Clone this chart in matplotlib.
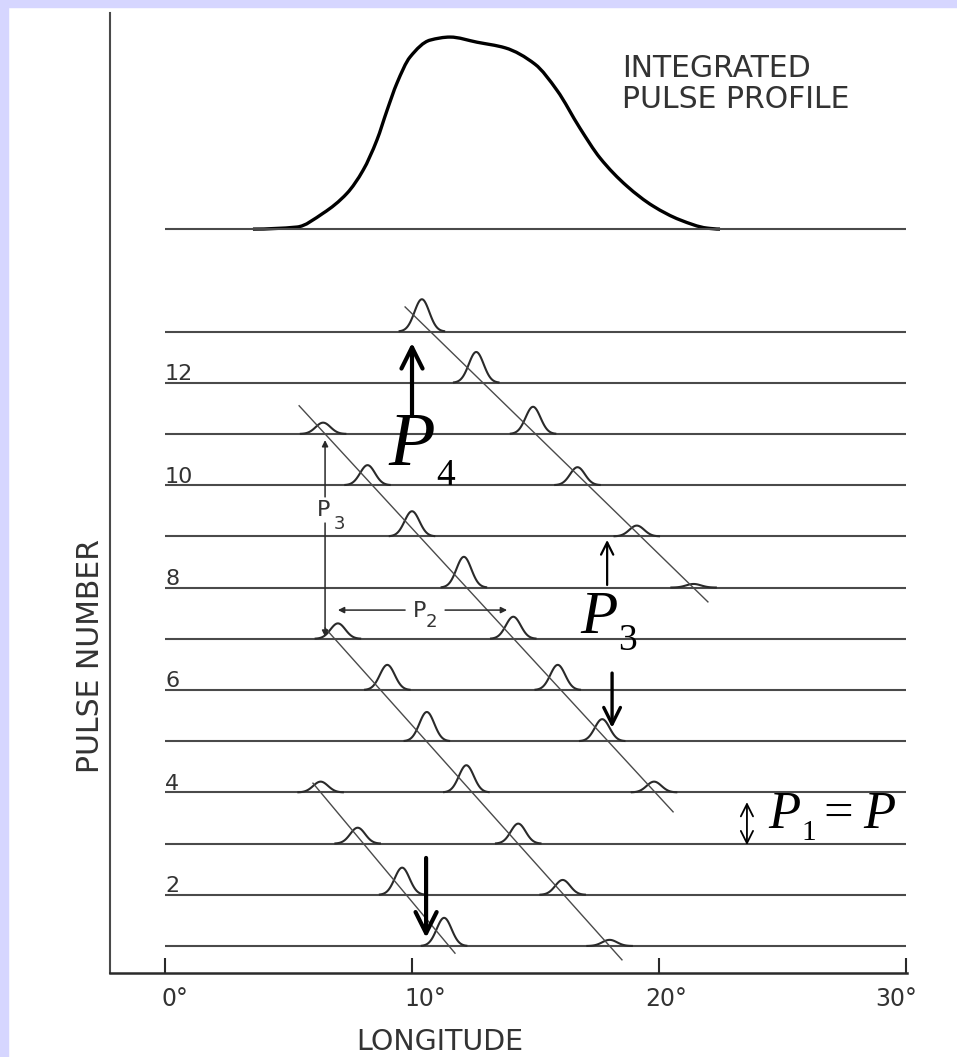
import numpy as np
import matplotlib
matplotlib.use("Agg")
import matplotlib.pyplot as plt
from matplotlib.patches import Rectangle, PathPatch
from matplotlib.path import Path
from matplotlib.transforms import ScaledTranslation

# integrated (average) pulse profile, longitude in degrees, height in pulse-row units
profile_lon = [3.56, 5.34, 6.40, 7.37, 8.02, 8.58, 8.99, 9.39, 9.92, 10.73, 11.54,
               12.63, 13.77, 14.98, 15.87, 16.80, 17.61, 18.70, 19.76, 20.85, 21.94, 22.47]
profile_amp = [0.0, 0.04, 0.31, 0.70, 1.15, 1.74, 2.32, 2.85, 3.36, 3.69, 3.75,
               3.65, 3.54, 3.22, 2.71, 1.97, 1.39, 0.84, 0.45, 0.18, 0.02, 0.0]
profile_row = 15

# individual pulses: row number, subpulse longitude, subpulse amplitude
pulse_numbers = list(range(1, 14))
sub_row = [13, 12, 11, 11, 10, 10, 9, 9, 8, 8, 7, 7, 6, 6, 5, 5, 4, 4, 4, 3, 3, 2, 2, 1, 1]
sub_lon = [10.4, 12.6, 6.4, 14.9, 8.2, 16.7, 10.0, 19.1, 12.1, 21.4, 7.0, 14.1, 9.0, 15.9,
           10.6, 17.7, 6.3, 12.2, 19.8, 7.8, 14.3, 9.6, 16.1, 11.3, 18.0]
sub_amp = [0.63, 0.60, 0.22, 0.53, 0.39, 0.35, 0.49, 0.21, 0.60, 0.07, 0.30, 0.43, 0.49, 0.49,
           0.57, 0.43, 0.21, 0.53, 0.21, 0.31, 0.39, 0.53, 0.29, 0.55, 0.12]
sub_width = 0.30

# drift bands: (start lon, start row) -> (end lon, end row)
drift_lon0 = [9.72, 5.43, 6.48, 5.99]
drift_row0 = [13.48, 11.55, 7.21, 4.18]
drift_lon1 = [21.98, 20.57, 18.50, 11.74]
drift_row1 = [7.72, 3.62, 0.73, 0.86]

row_labels = [2, 4, 6, 8, 10, 12]
lon_range = [0, 30]
lon_ticks = [0, 10, 20, 30]
lon_ticklabels = ["0°", "10°", "20°", "30°"]

ink = "#2a2a2a"
grey = "#4a4a4a"
txt = "#333333"
lavender = "#d6d6ff"


def smooth_path(xs, ys):
    # shape-preserving cubic Hermite through the points, as Bezier segments
    x = np.asarray(xs, float)
    y = np.asarray(ys, float)
    h = np.diff(x)
    d = np.diff(y) / h
    m = np.zeros_like(x)
    for k in range(1, len(x) - 1):
        if d[k - 1] * d[k] > 0:
            w1 = 2 * h[k] + h[k - 1]
            w2 = h[k] + 2 * h[k - 1]
            m[k] = (w1 + w2) / (w1 / d[k - 1] + w2 / d[k])
    verts = [(x[0], y[0])]
    codes = [Path.MOVETO]
    for k in range(len(x) - 1):
        verts += [(x[k] + h[k] / 3, y[k] + m[k] * h[k] / 3),
                  (x[k + 1] - h[k] / 3, y[k + 1] - m[k + 1] * h[k] / 3),
                  (x[k + 1], y[k + 1])]
        codes += [Path.CURVE4] * 3
    return Path(verts, codes)


fig = plt.figure(figsize=(9.57, 10.57), dpi=100)
fig.add_artist(Rectangle((0, 0), 8 / 957, 1, transform=fig.transFigure,
                         color=lavender, zorder=0))
fig.add_artist(Rectangle((0, 1 - 7 / 1057), 1, 7 / 1057, transform=fig.transFigure,
                         color=lavender, zorder=0))

ax = fig.add_axes([110 / 957, 84 / 1057, 797 / 957, 960 / 1057])
ax.set_xlim(-2.227, 30.04)
ax.set_ylim(0.473, 19.22)
for s in ["top", "right"]:
    ax.spines[s].set_visible(False)
ax.spines["left"].set_linewidth(1.5)
ax.spines["bottom"].set_linewidth(1.8)
ax.spines["left"].set_color(grey)
ax.spines["bottom"].set_color(ink)

ax.set_yticks([])
ax.set_xticks(lon_ticks)
ax.set_xticklabels(lon_ticklabels, fontsize=17, color=txt)
ax.tick_params(axis="x", direction="in", length=11, width=1.5, color=ink, pad=10)
label_shift = [10, 13, 7, -10]
for lbl, dx in zip(ax.get_xticklabels(), label_shift):
    lbl.set_transform(lbl.get_transform() + ScaledTranslation(dx / 100, 0, fig.dpi_scale_trans))

# baselines for every pulse and for the integrated profile
for n in pulse_numbers + [profile_row]:
    ax.plot(lon_range, [n, n], color=grey, lw=1.5, solid_capstyle="butt")

ax.add_patch(PathPatch(smooth_path(profile_lon, profile_row + np.array(profile_amp)),
                       fill=False, ec="black", lw=2.4))

# subpulses
for n, c, a in zip(sub_row, sub_lon, sub_amp):
    x = np.linspace(c - 0.9, c + 0.9, 80)
    ax.plot(x, n + a * np.exp(-0.5 * ((x - c) / sub_width) ** 2), color=ink, lw=1.5)

# drift lines
for x0, y0, x1, y1 in zip(drift_lon0, drift_row0, drift_lon1, drift_row1):
    ax.plot([x0, x1], [y0, y1], color=grey, lw=1.0)

for n in row_labels:
    ax.text(0.0, n + 0.05, str(n), fontsize=16, color=txt, ha="left", va="baseline")

ax.text(18.5, 18.42, "INTEGRATED", fontsize=21.5, color=txt, ha="left", va="top")
ax.text(18.5, 17.82, "PULSE PROFILE", fontsize=21.5, color=txt, ha="left", va="top")

ax.text(-0.024, 0.330, "PULSE NUMBER", rotation=90, fontsize=21.5, color=txt,
        ha="center", va="center", transform=ax.transAxes)
ax.text(0.414, -0.072, "LONGITUDE", fontsize=20.5, color=txt,
        ha="center", va="center", transform=ax.transAxes)

# P3 and P2 markers of the original figure
small = dict(arrowstyle="-|>", color=ink, lw=1.1, mutation_scale=9, shrinkA=0, shrinkB=0)
ax.annotate("", xy=(6.48, 10.88), xytext=(6.48, 9.77), arrowprops=small)
ax.annotate("", xy=(6.48, 7.04), xytext=(6.48, 9.26), arrowprops=small)
ax.text(6.42, 9.52, "P", fontsize=16, color=txt, ha="center", va="center")
ax.text(7.05, 9.24, "3", fontsize=13, color=txt, ha="center", va="center")
ax.annotate("", xy=(7.0, 7.56), xytext=(9.72, 7.56), arrowprops=small)
ax.annotate("", xy=(13.85, 7.56), xytext=(11.34, 7.56), arrowprops=small)
ax.text(10.3, 7.54, "P", fontsize=16, color=txt, ha="center", va="center")
ax.text(10.8, 7.33, "2", fontsize=13, color=txt, ha="center", va="center")

# drift period annotations
serif = "Liberation Serif"
big = dict(arrowstyle="->", color="black", lw=3.0, mutation_scale=38, shrinkA=0, shrinkB=0)
ax.annotate("", xy=(10.0, 12.78), xytext=(10.0, 11.37), arrowprops=big)
ax.text(9.03, 10.39, "P", fontsize=55, family=serif, style="italic", ha="left", va="baseline")
ax.text(11.0, 10.0, "4", fontsize=27, family=serif, ha="left", va="baseline")

thin = dict(arrowstyle="->", color="black", lw=1.6, mutation_scale=22, shrinkA=0, shrinkB=0)
ax.annotate("", xy=(17.9, 8.93), xytext=(17.9, 8.05), arrowprops=thin)
ax.text(16.8, 7.11, "P", fontsize=44, family=serif, style="italic", ha="left", va="baseline")
ax.text(18.35, 6.78, "3", fontsize=27, family=serif, ha="left", va="baseline")

mid = dict(arrowstyle="->", color="black", lw=2.4, mutation_scale=30, shrinkA=0, shrinkB=0)
ax.annotate("", xy=(18.1, 5.26), xytext=(18.1, 6.33), arrowprops=mid)
ax.annotate("", xy=(10.57, 1.16), xytext=(10.57, 2.72), arrowprops=big)

ax.annotate("", xy=(23.56, 2.97), xytext=(23.56, 3.81),
            arrowprops=dict(arrowstyle="<->", color="black", lw=1.3, mutation_scale=22,
                            shrinkA=0, shrinkB=0))
ax.text(24.41, 3.30, "P", fontsize=38, family=serif, style="italic", ha="left", va="baseline")
ax.text(25.75, 3.07, "1", fontsize=21, family=serif, ha="left", va="baseline")
ax.text(26.64, 3.30, "=", fontsize=38, family=serif, ha="left", va="baseline")
ax.text(28.26, 3.30, "P", fontsize=38, family=serif, style="italic", ha="left", va="baseline")

fig.savefig("out.png", dpi=100, facecolor="white")
